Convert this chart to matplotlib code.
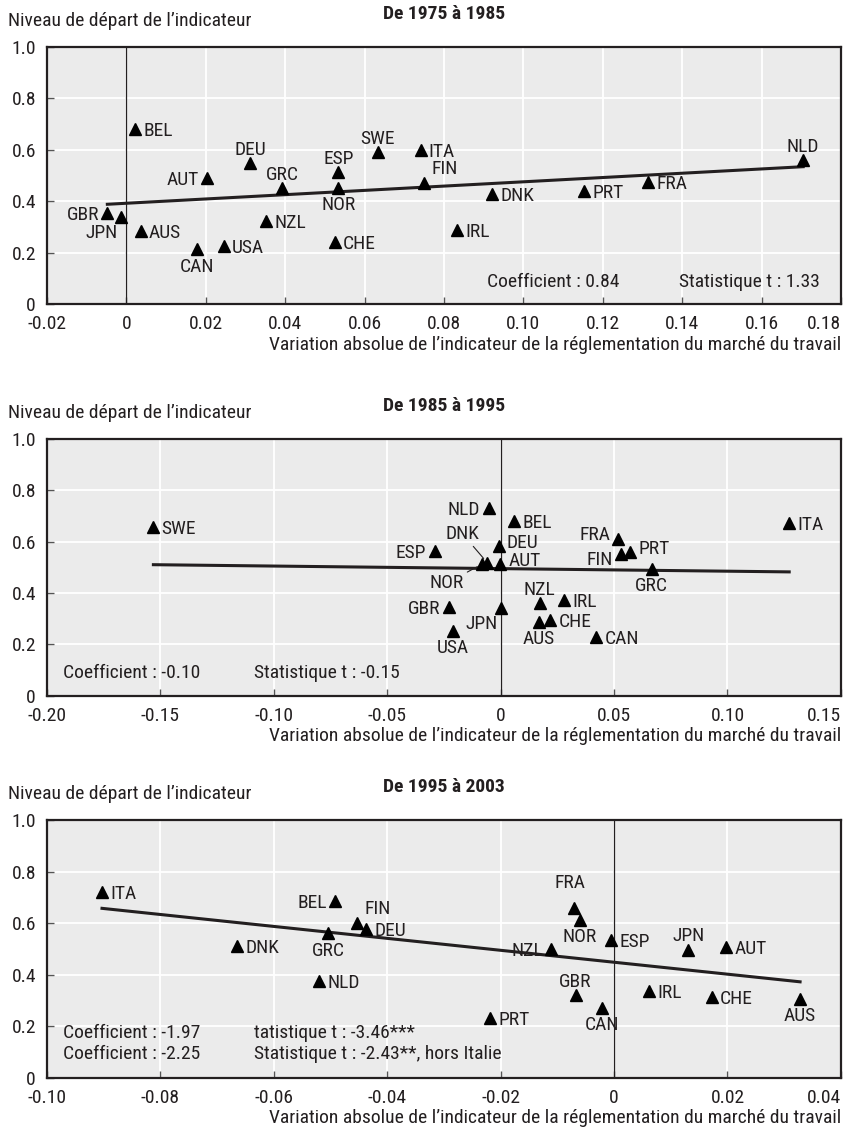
import matplotlib
matplotlib.use('Agg')
import matplotlib.pyplot as plt
import numpy as np
from matplotlib.ticker import FuncFormatter

plt.rcParams['font.family'] = ['Roboto Condensed', 'Liberation Sans Narrow', 'Roboto', 'DejaVu Sans']
plt.rcParams['font.stretch'] = 'condensed'

# De 1975 a 1985
countries_1 = ['BEL', 'GBR', 'JPN', 'AUS', 'CAN', 'USA', 'AUT', 'DEU', 'GRC', 'NZL', 'ESP',
               'NOR', 'CHE', 'SWE', 'ITA', 'FIN', 'DNK', 'IRL', 'PRT', 'FRA', 'NLD']
x_1 = [0.0021, -0.0048, -0.0014, 0.0036, 0.0179, 0.0245, 0.0204, 0.0311, 0.0392, 0.0351, 0.0534,
       0.0534, 0.0525, 0.0633, 0.0741, 0.0750, 0.0921, 0.0832, 0.1154, 0.1315, 0.1705]
y_1 = [0.68, 0.353, 0.34, 0.285, 0.213, 0.227, 0.489, 0.547, 0.45, 0.324, 0.512,
       0.453, 0.242, 0.591, 0.598, 0.472, 0.428, 0.288, 0.441, 0.475, 0.559]
fit_1 = [0.834, 0.392]  # pente, constante
stats_1 = ['Coefficient : 0.84', 'Statistique t : 1.33']

# De 1985 a 1995
countries_2 = ['SWE', 'ESP', 'GBR', 'USA', 'NLD', 'BEL', 'DNK', 'NOR', 'DEU', 'AUT', 'JPN',
               'NZL', 'IRL', 'AUS', 'CHE', 'CAN', 'FRA', 'FIN', 'PRT', 'GRC', 'ITA']
x_2 = [-0.1531, -0.0291, -0.0228, -0.021, -0.0053, 0.0059, -0.0059, -0.0081, -0.0009, -0.0004, 0.0,
       0.0172, 0.028, 0.0168, 0.0218, 0.0422, 0.0519, 0.0531, 0.0572, 0.0666, 0.1272]
y_2 = [0.658, 0.564, 0.347, 0.253, 0.732, 0.682, 0.518, 0.513, 0.584, 0.512, 0.342,
       0.36, 0.373, 0.288, 0.295, 0.23, 0.609, 0.551, 0.559, 0.494, 0.672]
fit_2 = [-0.10, 0.495]
stats_2 = ['Coefficient : -0.10', 'Statistique t : -0.15']

# De 1995 a 2003
countries_3 = ['ITA', 'DNK', 'BEL', 'FIN', 'DEU', 'GRC', 'NLD', 'PRT', 'NZL', 'FRA', 'NOR',
               'GBR', 'CAN', 'ESP', 'JPN', 'AUT', 'IRL', 'CHE', 'AUS']
x_3 = [-0.0903, -0.0665, -0.0492, -0.0453, -0.0437, -0.0504, -0.052, -0.0219, -0.0111, -0.0071, -0.006,
       -0.0068, -0.0022, -0.0006, 0.0131, 0.0197, 0.0062, 0.0172, 0.0328]
y_3 = [0.723, 0.513, 0.686, 0.602, 0.578, 0.561, 0.376, 0.233, 0.501, 0.66, 0.613,
       0.321, 0.272, 0.535, 0.497, 0.509, 0.338, 0.315, 0.305]
fit_3 = [-2.32, 0.4485]
stats_3 = ['Coefficient : -1.97', 'Coefficient : -2.25',
           'tatistique t : -3.46***', 'Statistique t : -2.43**, hors Italie']

titles = ['De 1975 à 1985', 'De 1985 à 1995', 'De 1995 à 2003']
ylabel = 'Niveau de départ de l’indicateur'
xlabel = 'Variation absolue de l’indicateur de la réglementation du marché du travail'

# placement des etiquettes
pos_1 = {'BEL': 'r', 'GBR': 'l', 'JPN': 'bl', 'AUS': 'r', 'CAN': 'b', 'USA': 'r', 'AUT': 'l',
         'DEU': 't', 'GRC': 't', 'NZL': 'r', 'ESP': 't', 'NOR': 'b', 'CHE': 'r', 'SWE': 't',
         'ITA': 'r', 'FIN': 'tr', 'DNK': 'r', 'IRL': 'r', 'PRT': 'r', 'FRA': 'r', 'NLD': 't'}
pos_2 = {'SWE': 'r', 'ESP': 'l', 'GBR': 'l', 'USA': 'b', 'NLD': 'l', 'BEL': 'r', 'DNK': 'lead',
         'NOR': 'lead', 'DEU': 'ru', 'AUT': 'ru', 'JPN': 'bl', 'NZL': 't', 'IRL': 'r', 'AUS': 'b',
         'CHE': 'r', 'CAN': 'r', 'FRA': 'lu', 'FIN': 'ld', 'PRT': 'ru', 'GRC': 'b', 'ITA': 'r'}
pos_3 = {'ITA': 'r', 'DNK': 'r', 'BEL': 'l', 'FIN': 'tr', 'DEU': 'r', 'GRC': 'b', 'NLD': 'r',
         'PRT': 'r', 'NZL': 'l', 'FRA': 'tt', 'NOR': 'b', 'GBR': 't', 'CAN': 'b', 'ESP': 'r',
         'JPN': 't', 'AUT': 'r', 'IRL': 'r', 'CHE': 'r', 'AUS': 'b'}
leaders = {'DNK': (-18, 21), 'NOR': (-26, -14)}

styles = {'r': ((6, 0), 'left', 'center_baseline'),
          'ru': ((6, 3.5), 'left', 'center_baseline'),
          'l': ((-6, 0), 'right', 'center_baseline'),
          'lu': ((-6, 4.5), 'right', 'center_baseline'),
          'ld': ((-6, -3), 'right', 'center_baseline'),
          't': ((0, 6), 'center', 'baseline'),
          'tt': ((-3, 14), 'center', 'baseline'),
          'b': ((0, -6), 'center', 'top'),
          'tr': ((5, 6), 'left', 'baseline'),
          'bl': ((-2, -5), 'right', 'top')}

dark = '#231f20'
bg = '#ebebeb'
fs = 14


def panel(ax, countries, xs, ys, fit, pos, xlim, xstep, title):
    ax.set_facecolor(bg)
    ax.set_xlim(*xlim)
    ax.set_ylim(0, 1.0)
    ax.set_xticks(np.arange(xlim[0], xlim[1] + xstep / 2, xstep))
    ax.set_yticks(np.arange(0, 1.01, 0.2))
    ax.xaxis.set_major_formatter(FuncFormatter(lambda v, p: '0' if abs(v) < 1e-9 else '%.2f' % v))
    ax.yaxis.set_major_formatter(FuncFormatter(lambda v, p: '0' if abs(v) < 1e-9 else '%.1f' % v))
    ax.grid(color='white', lw=1.3)
    ax.set_axisbelow(True)
    ax.tick_params(direction='in', length=5, width=1, color='#555555', labelsize=fs,
                   labelcolor=dark, pad=8)
    for s in ax.spines.values():
        s.set_color(dark)
        s.set_linewidth(1.6)
    ax.axvline(0, color=dark, lw=0.9, zorder=1.5)

    xx = np.array([min(xs), max(xs)])
    ax.plot(xx, fit[0] * xx + fit[1], color=dark, lw=2.2, zorder=2)
    ax.plot(xs, ys, '^', color='black', ms=9, zorder=3)

    for c, x, y in zip(countries, xs, ys):
        p = pos[c]
        if p == 'lead':
            ax.annotate(c, (x, y), xytext=leaders[c], textcoords='offset points',
                        ha='center', va='center', fontsize=fs, color=dark,
                        arrowprops=dict(arrowstyle='-', color=dark, lw=0.8, shrinkA=1, shrinkB=4))
            continue
        off, ha, va = styles[p]
        ax.annotate(c, (x, y), xytext=off, textcoords='offset points', ha=ha, va=va,
                    fontsize=fs, color=dark, zorder=4)

    ax.text(0.5, 1.128, title, transform=ax.transAxes, ha='center', va='center',
            fontsize=14, fontweight='bold', color=dark)
    ax.text(-0.049, 1.101, ylabel, transform=ax.transAxes, ha='left', va='center',
            fontsize=fs, color=dark)
    ax.text(1.0, -0.158, xlabel, transform=ax.transAxes, ha='right', va='center',
            fontsize=fs, color=dark)


fig = plt.figure(figsize=(8.5, 11.34), dpi=100)
ax1 = fig.add_axes([0.0553, 0.7319, 0.934, 0.2267])
ax2 = fig.add_axes([0.0553, 0.3865, 0.934, 0.2264])
ax3 = fig.add_axes([0.0553, 0.0497, 0.934, 0.2269])

panel(ax1, countries_1, x_1, y_1, fit_1, pos_1, (-0.02, 0.18), 0.02, titles[0])
panel(ax2, countries_2, x_2, y_2, fit_2, pos_2, (-0.20, 0.15), 0.05, titles[1])
panel(ax3, countries_3, x_3, y_3, fit_3, pos_3, (-0.10, 0.04), 0.02, titles[2])

tk = dict(fontsize=fs, color=dark, va='center')
ax1.text(0.554, 0.087, stats_1[0], transform=ax1.transAxes, **tk)
ax1.text(0.7956, 0.087, stats_1[1], transform=ax1.transAxes, **tk)
ax2.text(0.0198, 0.0896, stats_2[0], transform=ax2.transAxes, **tk)
ax2.text(0.261, 0.0896, stats_2[1], transform=ax2.transAxes, **tk)
ax3.text(0.0198, 0.175, stats_3[0], transform=ax3.transAxes, **tk)
ax3.text(0.0198, 0.092, stats_3[1], transform=ax3.transAxes, **tk)
ax3.text(0.261, 0.175, stats_3[2], transform=ax3.transAxes, **tk)
ax3.text(0.261, 0.092, stats_3[3], transform=ax3.transAxes, **tk)

fig.canvas.draw()
for ax in (ax1, ax2, ax3):
    ax.get_xticklabels()[-1].set_horizontalalignment('right')

fig.savefig('out.png', dpi=100)
